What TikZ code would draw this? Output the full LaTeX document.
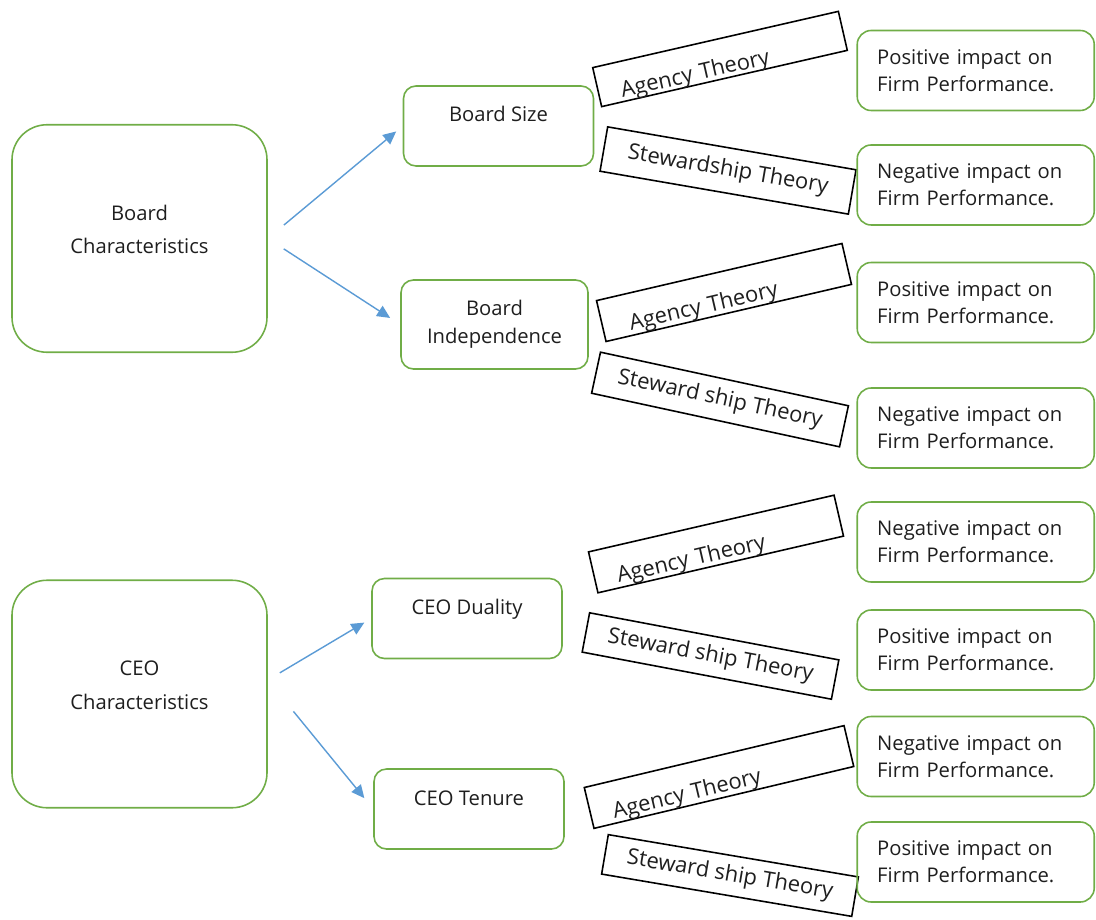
\documentclass[tikz,border=0pt]{standalone}
\usepackage{fontspec}
\setmainfont{Open Sans}
\usepackage{tikz}
\usetikzlibrary{arrows.meta}
\definecolor{boxgreen}{HTML}{70AD47}
\definecolor{arrowblue}{HTML}{5B9BD5}
\definecolor{ink}{HTML}{1E1E1E}
\tikzset{
  group/.style={draw=boxgreen,line width=0.9pt,rounded corners=0.7cm,align=center,text=ink,
    minimum width=5.1cm,minimum height=4.55cm,text depth=0.36cm,
    font=\fontsize{11.5}{19}\selectfont},
  factor/.style={draw=boxgreen,line width=0.9pt,rounded corners=0.25cm,align=center,text=ink,
    minimum width=3.8cm,minimum height=1.6cm,font=\fontsize{11.5}{15.8}\selectfont},
  onerow/.style={text height=0.3cm,text depth=0.46cm},
  impact/.style={draw=boxgreen,line width=0.9pt,rounded corners=0.28cm,align=left,text=ink,
    text width=3.94cm,inner xsep=0.4cm,minimum height=1.6cm,anchor=east,
    font=\fontsize{11.5}{15.3}\selectfont},
  theory/.style={draw=black,line width=0.9pt,inner xsep=0.45cm,inner ysep=0pt,text=ink,
    minimum width=5.04cm,minimum height=0.84cm,font=\fontsize{12.5}{15}\selectfont},
  agency/.style={theory,text width=4.14cm,align=left,text height=0.7cm,text depth=0.06cm},
  arrow/.style={-{Triangle[length=2.6mm,width=2.4mm]},draw=arrowblue,line width=0.8pt}
}
\begin{document}
\begin{tikzpicture}
  \useasboundingbox (0,0) rectangle (21.92,-18.4);
  \node[group] (bc) at (2.79,-4.77) {Board\\Characteristics};
  \node[group] (cc) at (2.79,-13.88) {CEO\\Characteristics};
  \node[factor,onerow] (bs) at (9.97,-2.52) {Board Size};
  \node[factor,minimum width=3.74cm,minimum height=1.78cm] (bi) at (9.89,-6.49) {Board\\Independence};
  \node[factor,onerow] (cd) at (9.34,-12.37) {CEO Duality};
  \node[factor,onerow] (ct) at (9.38,-16.18) {CEO Tenure};
  \node[agency,rotate=12.9,minimum height=0.8cm] (a1) at (14.40,-1.18) {Agency Theory};
  \node[theory,rotate=-9.8,minimum height=0.9cm] (s1) at (14.56,-3.41) {Stewardship Theory};
  \node[agency,rotate=13.1,text width=3.96cm] (a2) at (14.48,-5.85) {Agency Theory};
  \node[theory,rotate=-12.2] (s2) at (14.40,-7.99) {Steward ship Theory};
  \node[agency,rotate=13] (a3) at (14.32,-10.88) {Agency Theory};
  \node[theory,rotate=-10.7,minimum height=0.8cm] (s3) at (14.21,-13.12) {Steward ship Theory};
  \node[agency,rotate=13.4,text width=4.44cm] (a4) at (14.38,-15.54) {Agency Theory};
  \node[theory,rotate=-9.6,minimum height=0.8cm] (s4) at (14.60,-17.51) {Steward ship Theory};
  \node[impact] (i1) at (21.9,-1.41) {Positive impact on\\Firm Performance.};
  \node[impact] (i2) at (21.9,-3.70) {Negative impact on\\Firm Performance.};
  \node[impact] (i3) at (21.9,-6.05) {Positive impact on\\Firm Performance.};
  \node[impact] (i4) at (21.9,-8.56) {Negative impact on\\Firm Performance.};
  \node[impact] (i5) at (21.9,-10.84) {Negative impact on\\Firm Performance.};
  \node[impact] (i6) at (21.9,-13.00) {Positive impact on\\Firm Performance.};
  \node[impact] (i7) at (21.9,-15.13) {Negative impact on\\Firm Performance.};
  \node[impact] (i8) at (21.9,-17.24) {Positive impact on\\Firm Performance.};
  \draw[arrow,shorten <=0.42cm,shorten >=0.17cm] (bc.east) -- (bs.west);
  \draw[arrow,shorten <=0.38cm,shorten >=0.24cm] (bc.east) -- (bi.west);
  \draw[arrow,shorten <=0.28cm,shorten >=0.16cm] ([yshift=0.28cm]cc.east) -- (cd.west);
  \draw[arrow,shorten <=0.81cm,shorten >=0.28cm] ([yshift=0.28cm]cc.east) -- (ct.west);
\end{tikzpicture}
\end{document}
